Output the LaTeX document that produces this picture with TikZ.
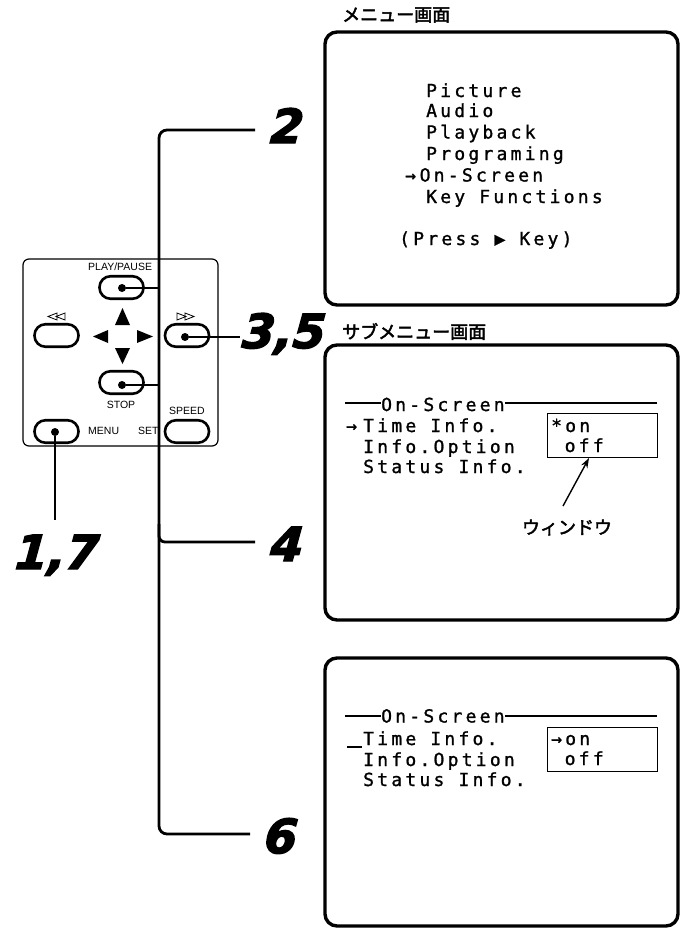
\documentclass[tikz,border=0pt]{standalone}
\usepackage{fontspec}
\setmainfont{Liberation Sans}
\newfontfamily\scrfont[LetterSpace=18,FakeBold=1.2]{DejaVu Sans Mono}
\newfontfamily\numfont{DejaVu Sans}[BoldItalicFeatures={FakeBold=3,FakeSlant=0.08}]
\newfontfamily\jpfont[FakeBold=2.5]{Noto Sans CJK JP}
\usetikzlibrary{arrows.meta}
\tikzset{
  screen/.style={line width=3.4pt, rounded corners=12pt},
  bus/.style={line width=2.8pt},
  btn/.style={draw, line width=2.6pt, rounded corners=11pt, minimum width=44pt, minimum height=22.5pt, inner sep=0},
  dotmark/.style={circle, fill, inner sep=0, minimum size=8pt},
  scrtxt/.style={font=\scrfont\fontsize{18}{18}\selectfont, anchor=base west, inner sep=0},
  num/.style={font=\numfont\bfseries\itshape\fontsize{47}{47}\selectfont, inner sep=0, anchor=base},
  lbl/.style={font=\fontsize{10.5}{10.5}\selectfont, inner sep=0},
  jp/.style={font=\jpfont\fontsize{18}{18}\selectfont, inner sep=0},
  rule/.style={line width=1.2pt},
  winbox/.style={draw, line width=1.3pt, minimum width=110pt, minimum height=44pt, anchor=north west, inner sep=0},
  tri/.style={line width=0.8pt, line join=miter}
}
\begin{document}
\begin{tikzpicture}[x=1pt,y=-1pt]
\useasboundingbox (0,0) rectangle (684,929);

% ---------- screens ----------
\draw[screen] (325,32) rectangle (678,305);
\draw[screen] (325,345) rectangle (678,620);
\draw[screen] (325,658) rectangle (678,926);

\node[jp, anchor=west] (t1) at (342,15) {メニュー画面};
\node[jp, anchor=west] (t2) at (342,331.5) {サブメニュー画面};

% menu screen
\node[scrtxt] (m1) at (426,97) {Picture};
\node[scrtxt] (m2) at (426,117) {Audio};
\node[scrtxt] (m3) at (426,138.5) {Playback};
\node[scrtxt] (m4) at (426,160) {Programing};
\node[scrtxt] (m5a) at (405,181.5) {→};
\node[scrtxt] (m5) at (419.5,181.5) {On-Screen};
\node[scrtxt] (m6) at (426,203) {Key Functions};
\node[scrtxt] (m7) at (399,245) {(Press ▶ Key)};

% submenu screen
\node[scrtxt] (s0) at (381,411) {On-Screen};
\coordinate (s0l) at (345,403);
\coordinate (s0r) at (657,403);
\draw[rule] (s0l) -- (s0l -| s0.west);
\draw[rule] (s0.east |- s0r) -- (s0r);
\node[scrtxt] (s1a) at (346,432) {→};
\node[scrtxt] (s1) at (363,432) {Time Info.};
\node[scrtxt] (s2) at (363,453) {Info.Option};
\node[scrtxt] (s3) at (363,473) {Status Info.};
\node[winbox] (w1) at (547,413) {};
\node[scrtxt] (w1a) at (551,432) {*on};
\node[scrtxt] (w1b) at (564.5,452) {off};
\node[jp] (wlabel) at (567,527.5) {ウィンドウ};
\coordinate (wtail) at (563,506);
\coordinate (wtip) at (589,458);
\draw[line width=1.4pt, -{Stealth[length=10pt,width=7pt]}] (wtail) -- (wtip);

% third screen
\node[scrtxt] (u0) at (381,722.5) {On-Screen};
\coordinate (u0l) at (345,716);
\coordinate (u0r) at (657,716);
\draw[rule] (u0l) -- (u0l -| u0.west);
\draw[rule] (u0.east |- u0r) -- (u0r);
\coordinate (usl) at (347,747);
\coordinate (usr) at (362,747);
\draw[line width=1.6pt] (usl) -- (usr);
\node[scrtxt] (u1) at (363,745) {Time Info.};
\node[scrtxt] (u2) at (363,766) {Info.Option};
\node[scrtxt] (u3) at (363,786) {Status Info.};
\node[winbox] (w2) at (547,727) {};
\node[scrtxt] (w2a) at (551,745) {→on};
\node[scrtxt] (w2b) at (564.5,765) {off};

% ---------- remote ----------
\draw[line width=1.2pt, rounded corners=6pt] (23,259) rectangle (218,446);
\node[btn] (bplay) at (121.5,287.5) {};
\node[btn] (brew) at (56.5,335.5) {};
\node[btn] (bff) at (187,335.5) {};
\node[btn] (bstop) at (121.5,382.5) {};
\node[btn] (bmenu) at (56.5,431.5) {};
\node[btn] (bspeed) at (187,431.5) {};

\node[lbl, anchor=west] (lplay) at (88,267) {PLAY/PAUSE};
\node[lbl] (lstop) at (121,405) {STOP};
\node[lbl] (lspeed) at (187,411) {SPEED};
\node[lbl, anchor=west] (lmenu) at (88,431) {MENU};
\node[lbl, anchor=west] (lset) at (138,431) {SET};

% rewind / ff symbols
\draw[tri] (65,313) -- (56,316.5) -- (65,320) -- cycle;
\draw[tri] (57,313) -- (48,316.5) -- (57,320) -- cycle;
\draw[tri] (177,313) -- (186,316.5) -- (177,320) -- cycle;
\draw[tri] (185,313) -- (194,316.5) -- (185,320) -- cycle;

% d-pad
\fill (115,325) -- (122.5,308) -- (130,325) -- cycle;
\fill (115,348) -- (122.5,364) -- (130,348) -- cycle;
\fill (108,330) -- (93,336.5) -- (108,343) -- cycle;
\fill (137,330) -- (153,336.5) -- (137,343) -- cycle;

% dots
\node[dotmark] (dplay) at (122,288) {};
\node[dotmark] (dff) at (185,337) {};
\node[dotmark] (dstop) at (122,385) {};
\node[dotmark] (dmenu) at (55,432) {};

% ---------- step numbers ----------
\node[num] (n2) at (286,143) {2};
\node[num] (n35) at (283,348) {3,5};
\node[num] (n4) at (286,561) {4};
\node[num] (n17) at (56,569) {1,7};
\node[num] (n6) at (280,853) {6};

% ---------- connectors ----------
\coordinate (busTop) at (159,130);
\coordinate (busBot) at (159,834);
\coordinate (l2) at (255,130);
\coordinate (l6) at (250,834);
\coordinate (j4) at (159,524);
\coordinate (l4) at (255,542);
\coordinate (l17) at (55,520);
\coordinate (l35) at (240,337);
\draw[bus, rounded corners=8pt] (l2) -- (busTop) -- (busBot) -- (l6);
\draw[bus, rounded corners=6pt] (j4) -- (j4 |- l4) -- (l4);
\draw[bus] (dplay) -- (dplay -| busTop);
\draw[bus] (dstop) -- (dstop -| busTop);
\draw[bus] (dff) -- (l35);
\draw[bus] (dmenu) -- (l17);
\end{tikzpicture}
\end{document}
